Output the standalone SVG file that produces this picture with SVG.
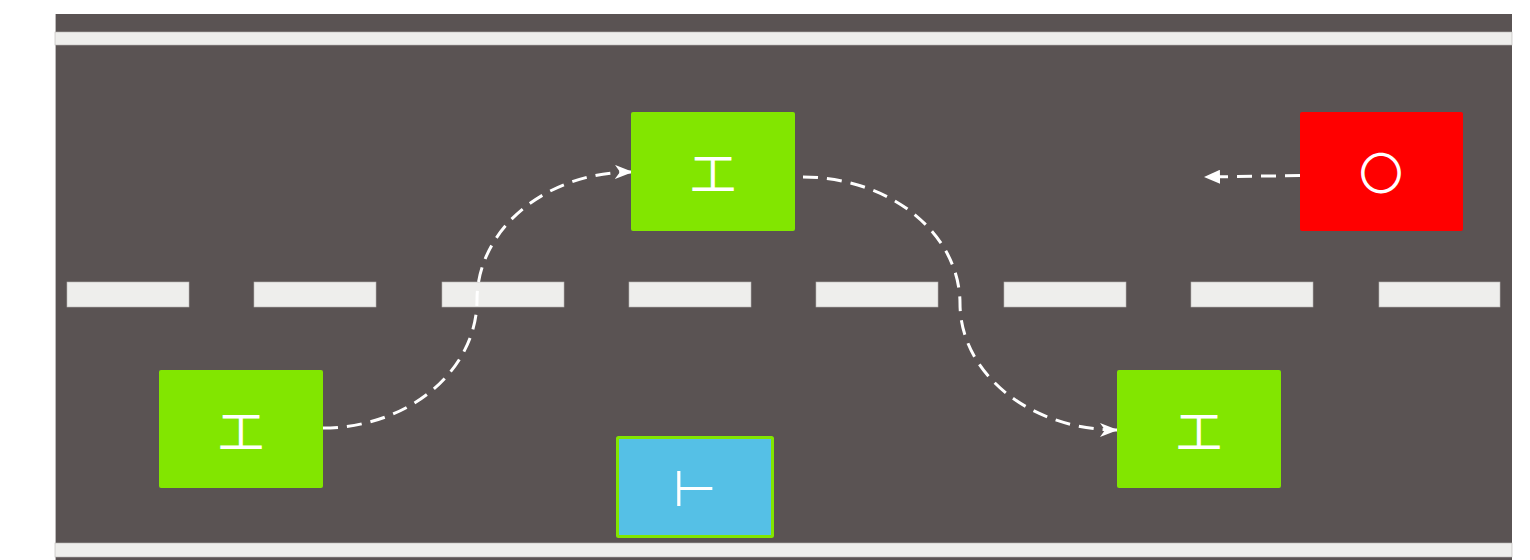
<svg xmlns="http://www.w3.org/2000/svg" width="1530" height="560" viewBox="0 0 1530 560">
<defs>
<style>
.road{fill:#5A5353;}
.line{fill:#EEEEEC;stroke:#B8B6B4;stroke-width:0.6;}
.car{fill:#82E600;}
.lbl{font-family:"Noto Sans CJK SC","Noto Sans CJK JP",sans-serif;font-size:46px;fill:#FFFFFF;text-anchor:middle;dominant-baseline:central;font-weight:400;}
.conn{fill:none;stroke:#FFFFFF;stroke-width:3;stroke-dasharray:15 9;}
</style>
<marker id="stealth" viewBox="0 0 18 14" refX="17" refY="7" markerWidth="18" markerHeight="14" markerUnits="userSpaceOnUse" orient="auto">
<path d="M0,0 L18,7 L0,14 L5,7 Z" fill="#FFFFFF"/>
</marker>
<marker id="tri" viewBox="0 0 16 14" refX="15" refY="7" markerWidth="16" markerHeight="14" markerUnits="userSpaceOnUse" orient="auto">
<path d="M0,0 L16,7 L0,14 Z" fill="#FFFFFF"/>
</marker>
</defs>
<g id="road">
<rect class="road" x="55" y="14" width="1457" height="546"/>
<line x1="55.5" y1="14" x2="55.5" y2="560" stroke="#BDBABA" stroke-width="1"/>
<rect class="line" x="55" y="32" width="1457" height="13"/>
<rect class="line" x="55" y="543" width="1457" height="14"/>
<rect class="line" x="67" y="282" width="122" height="25"/>
<rect class="line" x="254" y="282" width="122" height="25"/>
<rect class="line" x="442" y="282" width="122" height="25"/>
<rect class="line" x="629" y="282" width="122" height="25"/>
<rect class="line" x="816" y="282" width="122" height="25"/>
<rect class="line" x="1004" y="282" width="122" height="25"/>
<rect class="line" x="1191" y="282" width="122" height="25"/>
<rect class="line" x="1379" y="282" width="121" height="25"/>
</g>
<g id="connectors">
<path class="conn" d="M323,428 A154,128 0 0 0 477,300 A154,128 0 0 1 632,172" marker-end="url(#stealth)"/>
<path class="conn" d="M803,177 A157,126.5 0 0 1 960,303.5 A157,126.5 0 0 0 1117,430" marker-end="url(#stealth)"/>
<path class="conn" d="M1300,175.5 L1205,177" stroke-width="3.5" stroke-dasharray="13 8" marker-end="url(#tri)"/>
</g>
<g id="node-top">
<rect class="car" x="631" y="112" width="164" height="119" rx="2"/>
<text class="lbl" x="713" y="170">工</text>
</g>
<g id="node-left">
<rect class="car" x="159" y="370" width="164" height="118" rx="2"/>
<text class="lbl" x="241" y="428">工</text>
</g>
<g id="node-right">
<rect class="car" x="1117" y="370" width="164" height="118" rx="2"/>
<text class="lbl" x="1199" y="428">工</text>
</g>
<g id="node-red">
<rect x="1300" y="112" width="163" height="119" rx="2" fill="#FF0000"/>
<text class="lbl" x="1381" y="171" style="font-size:44px">〇</text>
</g>
<g id="node-blue">
<rect x="617.5" y="437.5" width="155" height="99" rx="1" fill="#55C0E6" stroke="#82E600" stroke-width="3"/>
<text class="lbl" x="695" y="484" style="font-size:50px">⊢</text>
</g>
</svg>
